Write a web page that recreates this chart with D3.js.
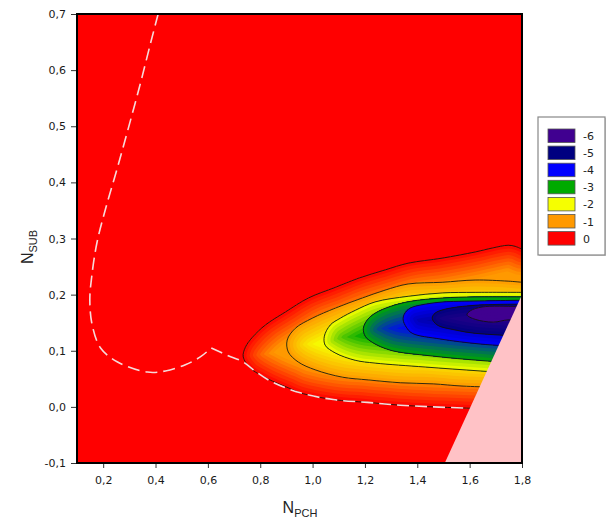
<!DOCTYPE html>
<html>
<head>
<meta charset="utf-8">
<script src="https://cdn.jsdelivr.net/npm/d3@7"></script>
<style>
  body { margin: 0; background: #fff; }
  svg { display: block; font-family: "Liberation Sans", Arial, sans-serif; }
</style>
</head>
<body>
<svg id="chart"></svg>
<script>
// contour levels and their colours (legend order is reversed)
const levels = [0, -1, -2, -3, -4, -5, -6];
const levelColors = ["#ff0000", "#ff9900", "#f6ff00", "#00aa00", "#0000ff", "#000080", "#400090"];

const xTicks = [0.2, 0.4, 0.6, 0.8, 1.0, 1.2, 1.4, 1.6, 1.8];
const yTicks = [-0.1, 0.0, 0.1, 0.2, 0.3, 0.4, 0.5, 0.6, 0.7];

// contour lines [N_PCH, N_SUB], open at the right edge
const contour0 = [[1.800,0.281],[1.774,0.286],[1.747,0.288],[1.686,0.283],[1.621,0.276],[1.495,0.265],[1.365,0.256],[1.277,0.244],[1.174,0.229],[1.087,0.213],[0.984,0.194],[0.896,0.169],[0.820,0.146],[0.770,0.124],[0.743,0.106],[0.735,0.089],[0.762,0.069],[0.800,0.057],[0.846,0.046],[0.907,0.034],[0.953,0.025],[1.079,0.013],[1.209,0.008],[1.335,0.003],[1.461,0.000],[1.575,-0.002],[1.800,-0.006]];
const contourM1 = [[1.800,0.222],[1.747,0.224],[1.621,0.226],[1.495,0.222],[1.365,0.219],[1.277,0.208],[1.190,0.194],[1.087,0.176],[0.999,0.158],[0.934,0.140],[0.903,0.119],[0.907,0.098],[0.945,0.080],[1.010,0.066],[1.113,0.053],[1.213,0.048],[1.335,0.043],[1.461,0.041],[1.575,0.037],[1.800,0.034]];
const contourM2 = [[1.800,0.204],[1.621,0.204],[1.495,0.203],[1.365,0.197],[1.239,0.187],[1.163,0.172],[1.106,0.158],[1.068,0.146],[1.045,0.126],[1.048,0.110],[1.087,0.096],[1.163,0.083],[1.239,0.078],[1.430,0.071],[1.640,0.064],[1.800,0.059]];
const contourM3 = [[1.800,0.196],[1.621,0.196],[1.495,0.194],[1.373,0.188],[1.297,0.179],[1.239,0.167],[1.209,0.155],[1.194,0.140],[1.201,0.126],[1.228,0.115],[1.297,0.101],[1.449,0.091],[1.659,0.082],[1.800,0.078]];
const contourM4 = [[1.800,0.190],[1.556,0.188],[1.499,0.187],[1.430,0.183],[1.373,0.176],[1.350,0.165],[1.346,0.155],[1.358,0.142],[1.381,0.131],[1.487,0.121],[1.640,0.112],[1.800,0.107]];
const contourM5 = [[1.800,0.183],[1.621,0.181],[1.506,0.174],[1.468,0.167],[1.457,0.158],[1.476,0.146],[1.545,0.137],[1.621,0.131],[1.716,0.128],[1.800,0.124]];
const contourM6 = [[1.800,0.179],[1.774,0.179],[1.648,0.178],[1.602,0.171],[1.590,0.164],[1.621,0.156],[1.690,0.151],[1.747,0.155],[1.800,0.153]];

// white dashed boundary, split at its kink
const boundaryLeft = [[0.410,0.700],[0.381,0.648],[0.342,0.576],[0.297,0.498],[0.255,0.427],[0.211,0.356],[0.176,0.292],[0.156,0.231],[0.149,0.190],[0.158,0.146],[0.190,0.105],[0.255,0.080],[0.369,0.062],[0.438,0.064],[0.514,0.075],[0.571,0.089],[0.613,0.105]];
const boundaryRight = [[0.613,0.105],[0.674,0.092],[0.735,0.080],[0.774,0.066],[0.839,0.046],[0.953,0.025],[1.079,0.013],[1.209,0.008],[1.335,0.003],[1.461,0.000],[1.583,-0.002]];

// excluded (pink) region
const excluded = [[1.505,-0.1],[1.8,-0.1],[1.8,0.2]];

const contours = [contour0, contourM1, contourM2, contourM3, contourM4, contourM5, contourM6];

const W = 607, H = 520;
const margin = {top: 14, left: 77, right: 85, bottom: 57};
const width = W - margin.left - margin.right;
const height = H - margin.top - margin.bottom;

const svg = d3.select("#chart").attr("width", W).attr("height", H);
const g = svg.append("g").attr("transform", `translate(${margin.left},${margin.top})`);

const x = d3.scaleLinear().domain([0.1, 1.8]).range([0, width]);
const y = d3.scaleLinear().domain([-0.1, 0.7]).range([height, 0]);
const color = d3.scaleLinear().domain(levels).range(levelColors).clamp(true);

const comma = d3.formatLocale({decimal: ",", thousands: ".", grouping: [3], currency: ["", ""], minus: "-"}).format(".1f");

const defs = svg.append("defs");
defs.append("clipPath").attr("id", "plotClip")
  .append("rect").attr("width", width).attr("height", height);

const line = d3.line()
  .x(d => x(d[0])).y(d => y(d[1]))
  .curve(d3.curveCatmullRom.alpha(0.5));

// closed shape: run well past the right edge, the clip hides it
function shape(pts) {
  const first = pts[0], last = pts[pts.length - 1];
  return line(pts) + `L${x(2.05)},${y(last[1])}L${x(2.05)},${y(first[1])}Z`;
}

contours.forEach((c, i) => {
  defs.append("clipPath").attr("id", "inside" + i)
    .append("path").attr("d", shape(c));
});

const plot = g.append("g").attr("clip-path", "url(#plotClip)");

plot.append("rect").attr("width", width).attr("height", height).attr("fill", color(0));

// shading: each level region gets stepped bands that run from its own
// colour at the line towards the next level's colour further in
const steps = 8, depth = 26;
contours.forEach((c, i) => {
  const lev = levels[i];
  const region = plot.append("g").attr("clip-path", `url(#inside${i})`);
  region.append("path").attr("d", shape(c)).attr("fill", color(lev - 1));
  d3.range(steps, 0, -1).forEach(s => {
    region.append("path")
      .attr("d", shape(c))
      .attr("fill", "none")
      .attr("stroke", color(lev - (s - 0.5) / steps))
      .attr("stroke-width", 2 * depth * s / steps)
      .attr("stroke-linejoin", "round");
  });
});

plot.append("g")
  .selectAll("path")
  .data(contours)
  .join("path")
  .attr("d", line)
  .attr("fill", "none")
  .attr("stroke", "#111")
  .attr("stroke-opacity", 0.85)
  .attr("stroke-width", 1);

plot.append("g")
  .selectAll("path")
  .data([boundaryLeft, boundaryRight])
  .join("path")
  .attr("d", line)
  .attr("fill", "none")
  .attr("stroke", "#f6dada")
  .attr("stroke-width", 1.6)
  .attr("stroke-dasharray", "12,6");

plot.append("path")
  .datum(excluded)
  .attr("d", d3.line().x(d => x(d[0])).y(d => y(d[1])).curve(d3.curveLinearClosed))
  .attr("fill", "#ffc2c6");

// axes
const yAxis = g.append("g")
  .call(d3.axisLeft(y).tickValues(yTicks).tickFormat(comma).tickSize(6).tickPadding(5));
const xAxis = g.append("g")
  .attr("transform", `translate(0,${height})`)
  .call(d3.axisBottom(x).tickValues(xTicks).tickFormat(comma).tickSize(5).tickPadding(8));

[xAxis, yAxis].forEach(a => {
  a.select(".domain").remove();
  a.selectAll(".tick line").attr("stroke", "#333");
  a.selectAll(".tick text").attr("font-size", 11).attr("fill", "#1a1a1a")
    .attr("font-family", "DejaVu Sans, Verdana, sans-serif");
});

g.append("rect")
  .attr("width", width).attr("height", height)
  .attr("fill", "none").attr("stroke", "#000").attr("stroke-width", 2);

// axis titles
const xt = svg.append("text")
  .attr("x", 300).attr("y", 513)
  .attr("text-anchor", "middle")
  .attr("font-size", 16).attr("fill", "#222");
xt.append("tspan").text("N");
xt.append("tspan").attr("dy", 4).attr("font-size", 11).text("PCH");

const yt = svg.append("text")
  .attr("transform", "translate(33,247) rotate(-90)")
  .attr("text-anchor", "middle")
  .attr("font-size", 16).attr("fill", "#222");
yt.append("tspan").text("N");
yt.append("tspan").attr("dy", 4).attr("font-size", 11).text("SUB");

// legend
const legendLevels = levels.slice().reverse();
const legend = svg.append("g").attr("transform", "translate(538,117)");
legend.append("rect")
  .attr("x", 1).attr("y", 1).attr("width", 67).attr("height", 138)
  .attr("fill", "#ccc");
legend.append("rect")
  .attr("width", 67).attr("height", 138)
  .attr("fill", "#fff").attr("stroke", "#888").attr("stroke-width", 1.2);

const item = legend.selectAll(".item")
  .data(legendLevels)
  .join("g")
  .attr("class", "item")
  .attr("transform", (d, i) => `translate(10,${12 + i * 17.1})`);

item.append("rect")
  .attr("width", 27).attr("height", 13.5)
  .attr("fill", d => levelColors[levels.indexOf(d)])
  .attr("stroke", "#555").attr("stroke-width", 0.8);

item.append("text")
  .attr("x", 35).attr("y", 11)
  .attr("font-size", 11).attr("fill", "#222")
  .attr("font-family", "DejaVu Sans, Verdana, sans-serif")
  .text(d => d);
</script>
</body>
</html>
